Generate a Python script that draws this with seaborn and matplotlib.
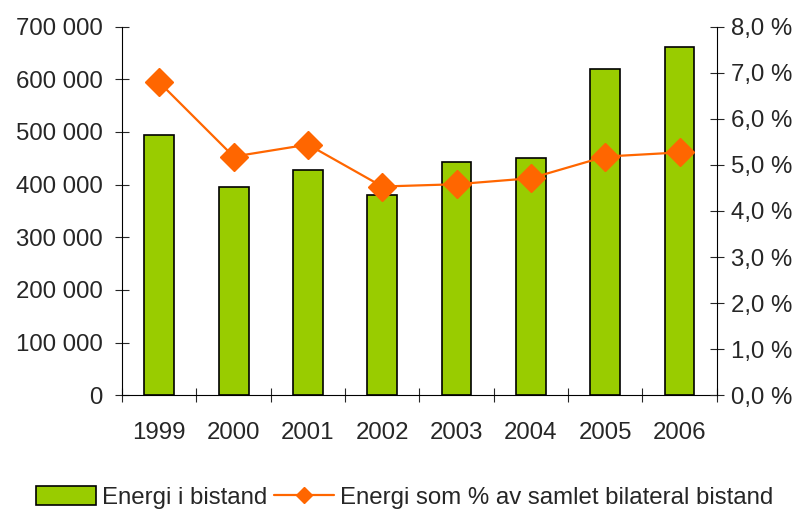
import matplotlib
matplotlib.use("Agg")
import matplotlib.pyplot as plt
import matplotlib.ticker as mtick
import numpy as np
import pandas as pd
import seaborn as sns

years = ["1999", "2000", "2001", "2002", "2003", "2004", "2005", "2006"]
energi = [495000, 396000, 427000, 381000, 442000, 450000, 620000, 662000]
andel = [6.79, 5.18, 5.44, 4.53, 4.58, 4.71, 5.18, 5.27]

GREEN = "#99CC00"
ORANGE = "#FF6600"
FS = 17.3

sns.set_theme(style="white")
plt.rcParams["font.family"] = ["Liberation Sans", "DejaVu Sans"]
plt.rcParams["font.size"] = FS

df = pd.DataFrame({"year": years, "energi": energi, "andel": andel})

fig = plt.figure(figsize=(8.09, 5.12), dpi=100)
ax = fig.add_axes([0.151, 0.228, 0.735, 0.72])
sns.barplot(data=df, x="year", y="energi", color=GREEN, edgecolor="black",
            linewidth=1.2, width=0.4, saturation=1, ax=ax,
            label="Energi i bistand")
if ax.get_legend() is not None:
    ax.get_legend().remove()
ax.set_xlim(-0.5, len(years) - 0.5)
ax.set_ylim(0, 700000)
ax.set_yticks(np.arange(0, 700001, 100000))
ax.yaxis.set_major_formatter(mtick.FuncFormatter(
    lambda v, _: f"{int(v):,}".replace(",", " ")))
ax.set_xlabel("")
ax.set_ylabel("")

ax2 = ax.twinx()
ax2.plot(range(len(years)), andel, color=ORANGE, lw=1.6, marker="D",
         markersize=14, label="Energi som % av samlet bilateral bistand")
ax2.set_ylim(0, 8)
ax2.set_yticks(np.arange(0, 8.01, 1))
ax2.yaxis.set_major_formatter(mtick.FuncFormatter(
    lambda v, _: f"{v:.1f}".replace(".", ",") + " %"))

for a in (ax, ax2):
    for s in a.spines.values():
        s.set_visible(False)
    a.grid(False)
ax.spines["left"].set_visible(True)
ax.spines["bottom"].set_visible(True)
ax2.spines["right"].set_visible(True)
for s in (ax.spines["left"], ax.spines["bottom"], ax2.spines["right"]):
    s.set_color("black")
    s.set_linewidth(0.8)

ax.tick_params(axis="y", direction="inout", length=10, width=0.8,
               labelsize=FS, pad=9, left=True)
ax2.tick_params(axis="y", direction="inout", length=10, width=0.8,
                labelsize=FS, pad=5, right=True)
ax.set_xticks(range(len(years)))
ax.set_xticklabels(years, fontsize=FS)
ax.tick_params(axis="x", which="major", length=0, pad=19, labelsize=FS)
ax.set_xticks(np.arange(-0.5, len(years), 1), minor=True)
ax.tick_params(axis="x", which="minor", direction="inout", length=10,
               width=0.8, bottom=True)

h1, l1 = ax.get_legend_handles_labels()
h2, l2 = ax2.get_legend_handles_labels()
fig.legend(h1 + h2, l1 + l2, loc="lower center", ncol=2, frameon=False,
           fontsize=FS, bbox_to_anchor=(0.5, -0.022), handlelength=2.5,
           handleheight=0.8, handletextpad=0.25, columnspacing=0.3,
           borderaxespad=0.2, markerscale=0.6)

fig.savefig("out.png", dpi=100)
